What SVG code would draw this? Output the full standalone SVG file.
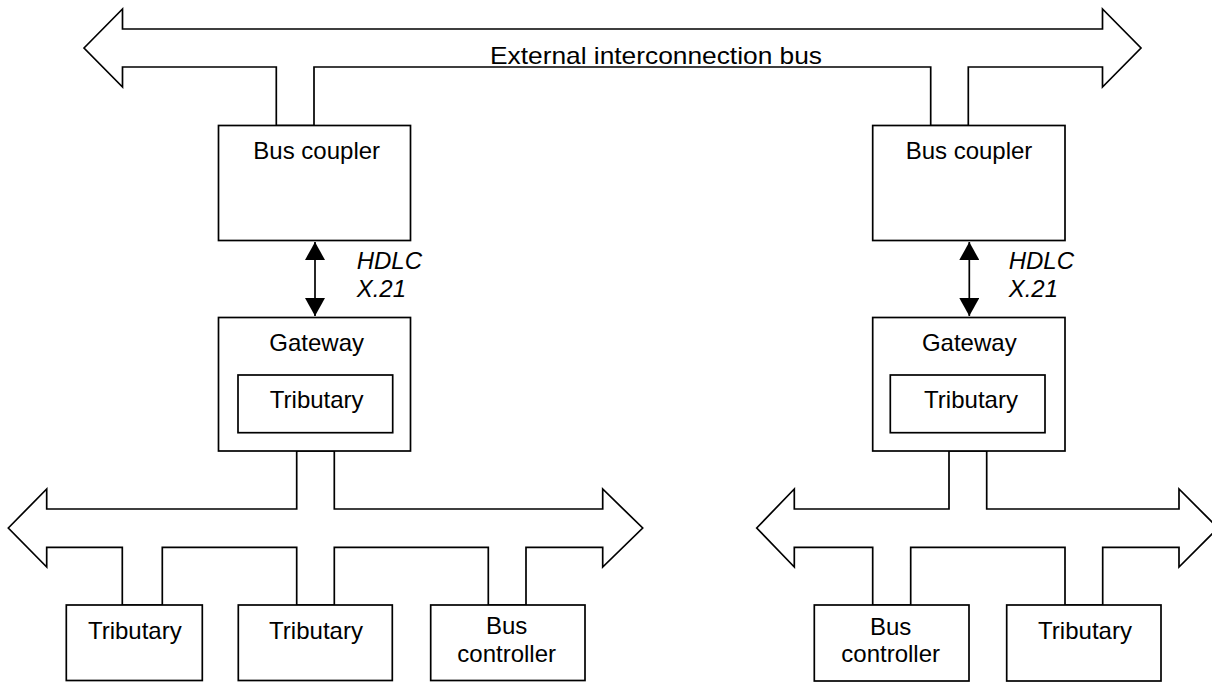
<svg xmlns="http://www.w3.org/2000/svg" width="1212" height="682" viewBox="0 0 1212 682">
<style>
.ln{fill:none;stroke:#000;stroke-width:1.7;stroke-linejoin:miter}
.bx{fill:#fff;stroke:#000;stroke-width:1.7}
.t{font-family:"Liberation Sans",Arial,sans-serif;font-size:24px;fill:#000;text-anchor:middle}
.it{font-family:"Liberation Sans",Arial,sans-serif;font-size:24px;font-style:italic;fill:#000}
</style>
<defs>
<marker id="ah" markerUnits="userSpaceOnUse" markerWidth="20" markerHeight="20" refX="18" refY="10" orient="auto-start-reverse">
<path d="M0,0 L18,10 L0,20 z" fill="#000"/>
</marker>
</defs>
<rect width="1212" height="682" fill="#fff"/>
<g id="connectors">
<polygon id="ext-bus" class="ln" points="84,48 122.5,9 122.5,29 1102.5,29 1102.5,9 1141,48 1102.5,87 1102.5,67 968.3,67 968.3,125.5 930.7,125.5 930.7,67 314,67 314,125.5 276.3,125.5 276.3,67 122.5,67 122.5,87"/>
<polygon id="left-bus" class="ln" points="8.3,528 46.7,489 46.7,509 296.7,509 296.7,451 334.3,451 334.3,509 602.7,509 602.7,489 642.7,528 602.7,567 602.7,547.3 526,547.3 526,605 488.3,605 488.3,547.3 334.3,547.3 334.3,605 296.7,605 296.7,547.3 162.3,547.3 162.3,605 122.3,605 122.3,547.3 46.7,547.3 46.7,567"/>
<polygon id="right-bus" class="ln" points="756.7,528 794.3,489 794.3,509 949,509 949,451 986.7,451 986.7,509 1179,509 1179,489 1218,528 1179,567 1179,547.3 1102.7,547.3 1102.7,605 1065,605 1065,547.3 910.7,547.3 910.7,605 872.7,605 872.7,547.3 794.3,547.3 794.3,567"/>
<line class="ln" x1="315" y1="242" x2="315" y2="316" marker-start="url(#ah)" marker-end="url(#ah)"/>
<line class="ln" x1="969.3" y1="242" x2="969.3" y2="316" marker-start="url(#ah)" marker-end="url(#ah)"/>
<text class="t" x="490" y="64.3" style="text-anchor:start" textLength="332" lengthAdjust="spacingAndGlyphs">External interconnection bus</text>
<text class="it" x="356.7" y="269">HDLC</text>
<text class="it" x="356.7" y="296.7">X.21</text>
<text class="it" x="1008.7" y="269">HDLC</text>
<text class="it" x="1008.7" y="296.7">X.21</text>
</g>
<g id="bus-coupler-left">
<rect class="bx" x="218.5" y="125.5" width="192" height="115"/>
<text class="t" x="316.7" y="158.7">Bus coupler</text>
</g>
<g id="bus-coupler-right">
<rect class="bx" x="872.7" y="125.5" width="192.3" height="115"/>
<text class="t" x="969" y="158.7">Bus coupler</text>
</g>
<g id="gateway-left">
<rect class="bx" x="218.5" y="317.5" width="192" height="133.5"/>
<text class="t" x="316.7" y="350.7">Gateway</text>
<rect class="bx" x="238" y="375" width="154.7" height="57.7"/>
<text class="t" x="316.7" y="408.3">Tributary</text>
</g>
<g id="gateway-right">
<rect class="bx" x="872.7" y="317.5" width="192.3" height="133.5"/>
<text class="t" x="969.3" y="350.7">Gateway</text>
<rect class="bx" x="890.3" y="375" width="154.7" height="57.7"/>
<text class="t" x="971" y="408.3">Tributary</text>
</g>
<g id="tributary-1">
<rect class="bx" x="66.3" y="605" width="136" height="75.5"/>
<text class="t" x="134.8" y="639">Tributary</text>
</g>
<g id="tributary-2">
<rect class="bx" x="238.3" y="605" width="154" height="75.5"/>
<text class="t" x="316" y="639">Tributary</text>
</g>
<g id="bus-controller-left">
<rect class="bx" x="430.7" y="605" width="154.3" height="75.5"/>
<text class="t" x="506.7" y="634">Bus</text>
<text class="t" x="506.7" y="661.7">controller</text>
</g>
<g id="bus-controller-right">
<rect class="bx" x="814.3" y="605" width="154.7" height="76"/>
<text class="t" x="890.7" y="635">Bus</text>
<text class="t" x="890.7" y="662.3">controller</text>
</g>
<g id="tributary-3">
<rect class="bx" x="1006.7" y="605" width="154.3" height="76"/>
<text class="t" x="1085" y="639.3">Tributary</text>
</g>
</svg>
